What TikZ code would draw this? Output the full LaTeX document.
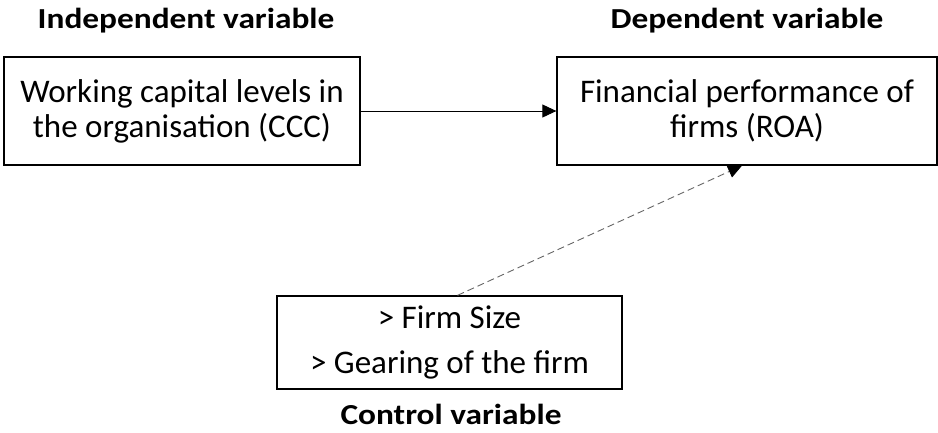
\documentclass[tikz,border=0pt]{standalone}
\usepackage{fontspec}
\setmainfont{Carlito}
\usetikzlibrary{arrows.meta,calc}
\newcommand{\ttl}[1]{\scalebox{1.15}[1]{#1}}
\begin{document}
\begin{tikzpicture}[x=1pt,y=-1pt,
  box/.style={draw=black,line width=1.3pt,align=center,inner sep=0pt,
    font=\fontsize{33}{35}\selectfont},
  title/.style={font=\fontsize{29}{32}\selectfont\bfseries,inner sep=0pt,anchor=base},
  tip/.style={-{Triangle[length=14pt,width=13pt,fill=black,color=black]}}]
\useasboundingbox (0,0) rectangle (938,432);
\node[title] (tind) at (186,28) {\ttl{Independent variable}};
\node[title] (tdep) at (747,28) {\ttl{Dependent variable}};
\node[title] (tctl) at (451,424) {\ttl{Control variable}};
\node[box,minimum width=356pt,minimum height=108pt] (ind) at (182,111)
  {Working capital levels in\\the organisation (CCC)};
\node[box,minimum width=380pt,minimum height=108pt] (dep) at (747,111)
  {Financial performance of\\firms (ROA)};
\node[box,minimum width=345pt,minimum height=93pt,
  font=\fontsize{33}{45}\selectfont] (ctl) at (449.5,342.5)
  {> Firm Size\\> Gearing of the firm};
\draw[tip,line width=0.9pt] (ind.east) -- (dep.west);
\draw[tip,line width=0.9pt,draw=black!60,dash pattern=on 7pt off 4pt]
  ($(ctl.north)+(8,0)$) -- ($(dep.south)+(-5,0)$);
\end{tikzpicture}
\end{document}
